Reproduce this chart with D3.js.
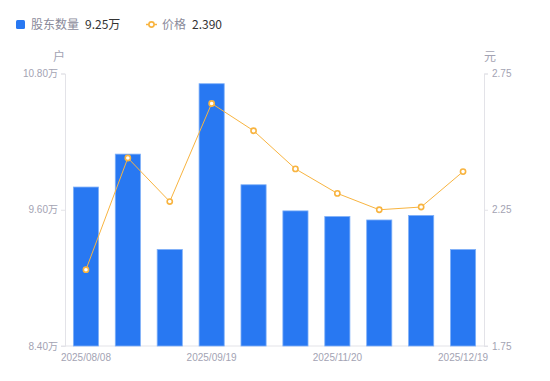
<!DOCTYPE html>
<html><head><meta charset="utf-8">
<script src="https://cdn.jsdelivr.net/npm/d3@7"></script>
<style>
html,body{margin:0;padding:0;background:#fff;}
svg{display:block;font-family:"Noto Sans CJK SC","Noto Sans",sans-serif;}
</style></head><body>
<svg id="c" width="550" height="381"></svg>
<script>
const dates = ["2025/08/08","2025/08/20","2025/08/29","2025/09/19","2025/09/30","2025/10/31","2025/11/20","2025/11/28","2025/12/10","2025/12/19"];
const holders = [9.80, 10.09, 9.25, 10.71, 9.82, 9.59, 9.54, 9.51, 9.55, 9.25];
const prices = [2.03, 2.44, 2.28, 2.64, 2.54, 2.40, 2.31, 2.25, 2.26, 2.39];
const leftTicks = [8.40, 9.60, 10.80];
const rightTicks = [1.75, 2.25, 2.75];
const shownDates = ["2025/08/08","2025/09/19","2025/11/20","2025/12/19"];

const svg = d3.select("#c");
const L = 65, R = 484, T = 73.5, B = 346;
const x = d3.scaleBand().domain(dates).range([L, R]).paddingInner(0.4).paddingOuter(0.2);
const yL = d3.scaleLinear().domain([8.40, 10.80]).range([B, T]);
const yR = d3.scaleLinear().domain([1.75, 2.75]).range([B, T]);
const axisCol = "#e3e3e8", textCol = "#a3a3b3";

// axes
const gl = svg.append("g").attr("transform", `translate(${L},0)`)
  .call(d3.axisLeft(yL).tickValues(leftTicks).tickSize(4).tickPadding(3).tickFormat(d => d3.format(".2f")(d) + "万"));
const gr = svg.append("g").attr("transform", `translate(${R},0)`)
  .call(d3.axisRight(yR).tickValues(rightTicks).tickSize(4).tickPadding(4).tickFormat(d3.format(".2f")));
const gb = svg.append("g").attr("transform", `translate(0,${B})`)
  .call(d3.axisBottom(x).tickValues(shownDates).tickSize(0).tickPadding(8));
[gl, gr, gb].forEach(g => {
  g.select(".domain").attr("stroke", axisCol);
  g.selectAll(".tick line").attr("stroke", axisCol);
  g.selectAll("text").attr("fill", textCol).style("font-size", "10px").style("font-family", "'Liberation Sans',Arial,'Noto Sans CJK SC',sans-serif");
});
gb.select(".domain").attr("d", `M${L-4},0H${R+4}`);

// bars
svg.append("g").selectAll("rect").data(holders).join("rect")
  .attr("x", (d, i) => x(dates[i])).attr("width", x.bandwidth())
  .attr("y", d => yL(d)).attr("height", d => B - yL(d))
  .attr("fill", "#2878f2").attr("stroke", "#7fb0f8").attr("stroke-width", 0.8);

// line
const line = d3.line().x((d, i) => x(dates[i]) + x.bandwidth() / 2).y(d => yR(d));
svg.append("path").datum(prices).attr("d", line).attr("fill", "none").attr("stroke", "#f8b440").attr("stroke-width", 1);
svg.append("g").selectAll("circle").data(prices).join("circle")
  .attr("cx", (d, i) => x(dates[i]) + x.bandwidth() / 2).attr("cy", d => yR(d)).attr("r", 2.6)
  .attr("fill", "#fff").attr("stroke", "#f8b440").attr("stroke-width", 1.6);

// unit labels
svg.append("text").attr("x", 59).attr("y", 61).attr("text-anchor", "middle").attr("fill", textCol).style("font-size", "12px").text("户");
svg.append("text").attr("x", 490).attr("y", 61).attr("text-anchor", "middle").attr("fill", textCol).style("font-size", "12px").text("元");

// legend
const lg = svg.append("g");
lg.append("rect").attr("x", 16).attr("y", 20).attr("width", 9).attr("height", 9).attr("rx", 1.5).attr("fill", "#2878f2");
lg.append("text").attr("x", 31).attr("y", 29).attr("fill", "#8a8a9a").style("font-size", "12px").text("股东数量");
lg.append("text").attr("x", 85).attr("y", 29).attr("fill", "#333").style("font-size", "12px").text(d3.format(".2f")(holders[holders.length - 1]) + "万");
lg.append("line").attr("x1", 146).attr("x2", 157).attr("y1", 24.5).attr("y2", 24.5).attr("stroke", "#f8b440").attr("stroke-width", 1.5);
lg.append("circle").attr("cx", 151.5).attr("cy", 24.5).attr("r", 2.6).attr("fill", "#fff").attr("stroke", "#f8b440").attr("stroke-width", 1.6);
lg.append("text").attr("x", 162).attr("y", 29).attr("fill", "#8a8a9a").style("font-size", "12px").text("价格");
lg.append("text").attr("x", 192).attr("y", 29).attr("fill", "#333").style("font-size", "12px").text(d3.format(".3f")(prices[prices.length - 1]));
</script></body></html>
